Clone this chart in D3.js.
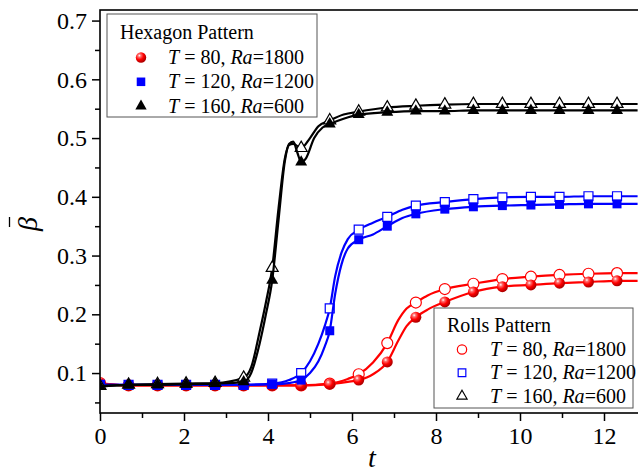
<!DOCTYPE html>
<html>
<head>
<meta charset="utf-8">
<script src="https://cdn.jsdelivr.net/npm/d3@7"></script>
<style>
  html, body { margin: 0; padding: 0; background: #fff; }
</style>
</head>
<body>
<svg id="chart" width="638" height="473"></svg>
<script>
// ── Données ────────────────────────────────────────────────────────
const markerT = [0, 0.68, 1.37, 2.05, 2.74, 3.42, 4.10, 4.79, 5.47, 6.16, 6.84, 7.52, 8.21, 8.89, 9.58, 10.26, 10.94, 11.63, 12.31];

const redHex    = [0.082, 0.079, 0.079, 0.079, 0.079, 0.079, 0.079, 0.079, 0.081, 0.088, 0.119, 0.195, 0.221, 0.238, 0.247, 0.250, 0.253, 0.255, 0.257];
const redRoll   = [0.083, 0.079, 0.079, 0.079, 0.079, 0.079, 0.079, 0.079, 0.082, 0.098, 0.151, 0.220, 0.243, 0.252, 0.260, 0.264, 0.267, 0.269, 0.270];
const blueHex   = [0.080, 0.080, 0.080, 0.080, 0.080, 0.080, 0.081, 0.088, 0.172, 0.327, 0.350, 0.371, 0.379, 0.383, 0.385, 0.386, 0.387, 0.388, 0.388];
const blueRoll  = [0.080, 0.080, 0.080, 0.080, 0.080, 0.080, 0.082, 0.100, 0.210, 0.344, 0.366, 0.385, 0.391, 0.396, 0.399, 0.400, 0.400, 0.401, 0.401];
const blackHex  = [0.077, 0.080, 0.080, 0.081, 0.082, 0.085, 0.258, 0.459, 0.524, 0.540, 0.544, 0.546, 0.546, 0.547, 0.547, 0.547, 0.547, 0.547, 0.547];
const blackRoll = [0.078, 0.080, 0.081, 0.082, 0.083, 0.092, 0.279, 0.483, 0.530, 0.545, 0.552, 0.555, 0.557, 0.558, 0.558, 0.558, 0.558, 0.558, 0.558];

// points supplémentaires de la courbe (entre les marqueurs)
const redHexCurve    = [[5.9, 0.085], [6.5, 0.098], [7.1, 0.155], [7.3, 0.180], [7.8, 0.208], [12.8, 0.257]];
const redRollCurve   = [[5.9, 0.090], [6.5, 0.118], [7.1, 0.190], [7.3, 0.210], [7.8, 0.232], [12.8, 0.270]];
const blueHexCurve   = [[4.5, 0.083], [5.0, 0.100], [5.2, 0.120], [5.35, 0.145], [5.6, 0.235], [5.75, 0.285], [5.9, 0.312], [6.5, 0.336], [7.2, 0.364], [12.8, 0.388]];
const blueRollCurve  = [[4.5, 0.088], [5.0, 0.120], [5.2, 0.150], [5.35, 0.180], [5.6, 0.265], [5.75, 0.305], [5.9, 0.328], [6.5, 0.356], [7.2, 0.378], [12.8, 0.401]];
const blackHexCurve  = [[3.6, 0.100], [3.8, 0.150], [3.95, 0.200], [4.25, 0.360], [4.4, 0.460], [4.5, 0.490], [4.6, 0.494], [4.7, 0.475], [4.9, 0.465], [5.1, 0.500], [5.3, 0.518], [5.8, 0.533], [12.8, 0.547]];
const blackRollCurve = [[3.6, 0.110], [3.8, 0.170], [3.95, 0.220], [4.25, 0.380], [4.4, 0.465], [4.5, 0.488], [4.6, 0.490], [5.0, 0.500], [5.2, 0.520], [5.8, 0.540], [12.8, 0.558]];

const xTicks = [0, 2, 4, 6, 8, 10, 12];
const yTicks = [0.1, 0.2, 0.3, 0.4, 0.5, 0.6, 0.7];

const hexLabels  = [['80', '1800'], ['120', '1200'], ['160', '600']];
const rollLabels = [['80', '1800'], ['120', '1200'], ['160', '600']];

// ── Police serif disponible ────────────────────────────────────────
function pickSerif(list) {
  const ctx = document.createElement('canvas').getContext('2d');
  const probe = 'mmmmmmmmmmlliWWgg0123';
  const w = f => { ctx.font = `72px ${f}`; return ctx.measureText(probe).width; };
  const mono = w('monospace'), sans = w('sans-serif');
  for (const f of list) {
    if (w(`"${f}", monospace`) !== mono || w(`"${f}", sans-serif`) !== sans) return `"${f}"`;
  }
  return 'serif';
}
const FONT = pickSerif(['Liberation Serif', 'Times New Roman', 'Tinos', 'Nimbus Roman', 'FreeSerif', 'DejaVu Serif', 'Noto Serif']);

// ── Mise en page ───────────────────────────────────────────────────
const svg = d3.select('#chart').style('font-family', FONT);
const mLeft = 100, mTop = 10, mBottom = 413;

const x = d3.scaleLinear().domain([0, 12.8]).range([mLeft, mLeft + 12.8 * 42]);
const y = d3.scaleLinear().domain([0.032, 0.718]).range([mBottom, mTop]);

const defs = svg.append('defs');
const grad = defs.append('radialGradient').attr('id', 'ball')
  .attr('cx', '35%').attr('cy', '32%').attr('r', '65%');
grad.append('stop').attr('offset', '0%').attr('stop-color', '#ffffff');
grad.append('stop').attr('offset', '22%').attr('stop-color', '#ff7070');
grad.append('stop').attr('offset', '60%').attr('stop-color', '#ff0000');
grad.append('stop').attr('offset', '100%').attr('stop-color', '#b00000');

defs.append('clipPath').attr('id', 'plot')
  .append('rect').attr('x', mLeft).attr('y', mTop).attr('width', 600).attr('height', mBottom - mTop);

// ── Courbes et marqueurs ───────────────────────────────────────────
const series = [
  { vals: redRoll,   extra: redRollCurve,   color: '#ff0000', shape: 'circle',   filled: false },
  { vals: redHex,    extra: redHexCurve,    color: '#ff0000', shape: 'circle',   filled: true },
  { vals: blueRoll,  extra: blueRollCurve,  color: '#0000ff', shape: 'square',   filled: false },
  { vals: blueHex,   extra: blueHexCurve,   color: '#0000ff', shape: 'square',   filled: true },
  { vals: blackRoll, extra: blackRollCurve, color: '#000000', shape: 'triangle', filled: false },
  { vals: blackHex,  extra: blackHexCurve,  color: '#000000', shape: 'triangle', filled: true },
];

const line = d3.line().x(d => x(d[0])).y(d => y(d[1])).curve(d3.curveMonotoneX);
const plotG = svg.append('g').attr('clip-path', 'url(#plot)');

function drawMarker(g, shape, filled, color, cx, cy, scale = 1) {
  const fill = filled ? (shape === 'circle' ? 'url(#ball)' : color) : '#ffffff';
  const sw = filled ? 0 : 1.2;
  if (shape === 'circle') {
    g.append('circle').attr('cx', cx).attr('cy', cy).attr('r', 5.5 * scale)
      .attr('fill', fill).attr('stroke', filled ? 'none' : color).attr('stroke-width', sw);
  } else {
    const type = shape === 'square' ? d3.symbolSquare : d3.symbolTriangle;
    const size = (shape === 'square' ? 81 : 62) * scale * scale;
    g.append('path').attr('d', d3.symbol().type(type).size(size)())
      .attr('transform', `translate(${cx},${cy})`)
      .attr('fill', fill).attr('stroke', filled ? 'none' : color).attr('stroke-width', sw);
  }
}

series.forEach(s => {
  const pts = markerT.map((t, i) => [t, s.vals[i]]).concat(s.extra).sort((a, b) => a[0] - b[0]);
  plotG.append('path').attr('d', line(pts))
    .attr('fill', 'none').attr('stroke', s.color).attr('stroke-width', 2.2);
  const mg = plotG.append('g');
  markerT.forEach((t, i) => drawMarker(mg, s.shape, s.filled, s.color, x(t), y(s.vals[i])));
});

// ── Axes ───────────────────────────────────────────────────────────
svg.append('rect').attr('x', mLeft).attr('y', mTop).attr('width', 600).attr('height', mBottom - mTop)
  .attr('fill', 'none').attr('stroke', '#000').attr('stroke-width', 1.6);

const xAxis = svg.append('g').attr('transform', `translate(0,${mBottom})`);
xAxis.call(d3.axisBottom(x).tickValues(d3.range(1, 13, 2)).tickSize(5).tickFormat(''));
xAxis.append('g').call(d3.axisBottom(x).tickValues(xTicks).tickSize(8).tickPadding(6).tickFormat(d3.format('d')));
xAxis.selectAll('.domain').remove();
xAxis.selectAll('line').attr('stroke', '#000').attr('stroke-width', 1.5);
xAxis.selectAll('g').attr('font-family', null);
xAxis.selectAll('text').attr('font-size', 24).attr('fill', '#000');

const yAxis = svg.append('g').attr('transform', `translate(${mLeft},0)`);
yAxis.call(d3.axisLeft(y).tickValues(d3.range(0.05, 0.71, 0.1)).tickSize(5).tickFormat(''));
yAxis.append('g').call(d3.axisLeft(y).tickValues(yTicks).tickSize(8).tickPadding(5).tickFormat(d3.format('.1f')));
yAxis.selectAll('.domain').remove();
yAxis.selectAll('line').attr('stroke', '#000').attr('stroke-width', 1.5);
yAxis.selectAll('g').attr('font-family', null);
yAxis.selectAll('text').attr('font-size', 24).attr('fill', '#000');
xAxis.attr('font-family', null); yAxis.attr('font-family', null);

// titres
svg.append('text').attr('x', 372).attr('y', 467).attr('text-anchor', 'middle')
  .attr('font-size', 28).attr('font-style', 'italic').text('t');

const yl = svg.append('g').attr('transform', 'translate(37,224) rotate(-90)');
yl.append('text').attr('x', 0).attr('y', 0).attr('text-anchor', 'middle')
  .attr('font-size', 28).attr('font-style', 'italic').text('β');
yl.append('line').attr('x1', -3).attr('x2', 7).attr('y1', -27.5).attr('y2', -27.5)
  .attr('stroke', '#000').attr('stroke-width', 1.3);

// ── Légendes ───────────────────────────────────────────────────────
function legend(box, title, labels, shapes, filled, colors) {
  const g = svg.append('g');
  g.append('rect').attr('x', box.x).attr('y', box.y).attr('width', box.w).attr('height', box.h)
    .attr('fill', '#fff').attr('stroke', '#555').attr('stroke-width', 1);
  g.append('text').attr('x', box.x + 13).attr('y', box.titleY).attr('font-size', 20).text(title);
  labels.forEach((l, i) => {
    const cy = box.rowY + i * box.dy;
    drawMarker(g, shapes[i], filled, colors[i], box.mx, cy, filled ? 0.95 : 0.85);
    const t = g.append('text').attr('x', box.tx).attr('y', cy + 6.5).attr('font-size', 20);
    t.append('tspan').attr('font-style', 'italic').text('T');
    t.append('tspan').text(` = ${l[0]}, `);
    t.append('tspan').attr('font-style', 'italic').text('Ra');
    t.append('tspan').text(`=${l[1]}`);
  });
}

const shapes = ['circle', 'square', 'triangle'];
const colors = ['#ff0000', '#0000ff', '#000000'];
legend({ x: 107, y: 14, w: 210, h: 103, titleY: 39, rowY: 57.5, dy: 24.3, mx: 141, tx: 168 },
  'Hexagon Pattern', hexLabels, shapes, true, colors);
legend({ x: 434, y: 308, w: 199, h: 100, titleY: 332, rowY: 349.5, dy: 23.3, mx: 462, tx: 490 },
  'Rolls Pattern', rollLabels, shapes, false, colors);
</script>
</body>
</html>
